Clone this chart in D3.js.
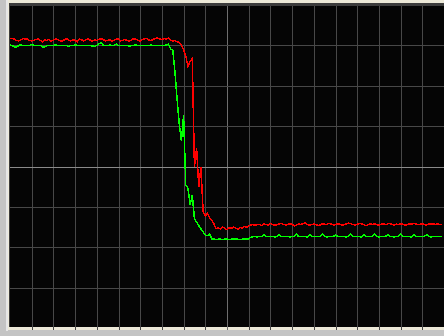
<!DOCTYPE html>
<html>
<head>
<meta charset="utf-8">
<script src="https://cdn.jsdelivr.net/npm/d3@7"></script>
<style>
  html, body { margin: 0; padding: 0; background: #c4c4c4; }
  svg { display: block; }
</style>
</head>
<body>
<div id="chart"></div>
<script>
// trace values in percent of full scale, one sample per index
var redValues = [
    89.6, 89.6, 89.5, 89.0, 88.9, 89.2, 89.6, 89.5, 89.4, 89.0,
    88.9, 89.1, 89.3, 89.5, 89.0, 88.6, 89.2, 89.0, 89.4, 88.8,
    89.1, 89.5, 89.3, 89.0, 88.7, 89.2, 89.6, 89.1, 88.9, 89.3,
    89.0, 88.6, 89.4, 89.2, 88.9, 89.3, 89.5, 89.1, 88.8, 89.2,
    89.0, 89.4, 89.6, 89.3, 88.9, 89.0, 89.2, 88.7, 89.1, 89.5,
    89.4, 88.9, 89.1, 89.3, 89.0, 88.8, 89.2, 89.6, 89.4, 89.0,
    88.9, 89.3, 89.5, 89.7, 89.2, 89.0, 89.4, 89.6, 89.8, 89.5,
    89.3, 89.6, 89.4, 89.7, 89.2, 88.8, 89.0, 88.6, 88.4, 87.6,
    86.1, 84.2, 81.0, 82.5, 83.4, 49.8, 55.7, 43.7, 49.8, 35.9,
    34.7, 35.6, 34.1, 33.4, 32.2, 30.7, 31.0, 30.6, 31.2, 30.9,
    30.4, 31.0, 30.8, 31.3, 30.9, 30.6, 31.1, 31.0, 31.4, 31.2,
    31.6, 31.9, 32.0, 31.8, 32.1, 32.0, 31.7, 32.2, 32.0, 31.9,
    32.3, 32.1, 31.8, 32.0, 32.2, 32.4, 32.1, 31.9, 32.0, 32.3,
    32.1, 31.6, 31.9, 32.2, 32.0, 32.3, 32.5, 32.1, 31.8, 32.0,
    32.2, 32.0, 31.7, 31.9, 32.3, 32.1, 32.0, 32.4, 32.2, 31.9,
    32.0, 32.3, 32.1, 31.8, 32.0, 32.2, 32.5, 32.3, 32.0, 31.9,
    32.1, 32.4, 32.2, 32.0, 31.7, 32.0, 32.3, 32.1, 32.2, 32.0,
    31.8, 32.1, 32.3, 32.0, 32.2, 32.4, 32.1, 31.9, 32.2, 32.0,
    32.3, 32.1, 31.8, 32.0, 32.2, 32.1, 32.4, 32.2, 32.0, 32.1,
    32.3, 32.0, 31.9, 32.2, 32.1, 32.3, 32.0, 32.2, 32.1, 32.0
];

var greenValues = [
    87.6, 87.5, 87.0, 86.9, 87.5, 87.6, 87.5, 87.5, 87.4, 87.5,
    87.8, 87.5, 87.5, 87.4, 87.5, 87.0, 87.0, 87.4, 87.5, 87.5,
    87.5, 87.6, 87.5, 87.5, 87.5, 87.5, 87.4, 87.2, 87.5, 87.5,
    87.6, 87.5, 87.5, 87.5, 87.5, 87.5, 87.5, 87.4, 87.3, 87.2,
    87.5, 88.0, 88.3, 87.5, 87.5, 87.4, 87.6, 87.5, 87.5, 87.9,
    87.5, 87.5, 87.4, 87.5, 87.5, 87.2, 87.5, 87.5, 87.6, 87.5,
    87.5, 87.4, 87.5, 87.5, 87.5, 87.6, 87.5, 87.5, 87.5, 87.4,
    87.5, 87.5, 87.6, 87.9, 86.4, 86.1, 79.3, 70.9, 63.2, 57.9,
    65.9, 44.3, 43.3, 38.1, 41.2, 33.8, 32.8, 31.7, 30.7, 29.7,
    28.8, 28.6, 29.1, 27.6, 27.5, 27.4, 27.5, 27.5, 27.4, 27.5,
    27.5, 27.4, 27.5, 27.5, 27.6, 27.5, 27.4, 27.5, 27.5, 27.6,
    27.6, 28.1, 28.3, 28.3, 28.2, 28.4, 28.3, 28.9, 28.3, 28.3,
    28.4, 28.3, 28.2, 28.3, 28.9, 28.3, 28.4, 28.3, 28.3, 28.2,
    28.3, 28.4, 29.0, 28.3, 28.3, 28.4, 28.3, 28.2, 28.9, 28.4,
    28.3, 28.3, 28.4, 28.3, 29.1, 28.3, 28.2, 28.3, 28.4, 28.3,
    28.9, 28.3, 28.4, 28.3, 28.3, 28.2, 28.4, 29.0, 28.3, 28.3,
    28.4, 28.3, 28.2, 28.9, 28.3, 28.4, 28.3, 28.3, 29.0, 28.3,
    28.2, 28.4, 28.3, 28.3, 28.9, 28.4, 28.3, 28.2, 28.3, 28.4,
    29.0, 28.3, 28.3, 28.4, 28.3, 28.2, 28.9, 28.3, 28.4, 28.3,
    28.3, 28.4, 28.9, 28.3, 28.2, 28.3, 28.4, 28.3, 28.3, 28.4
];

// grid divisions: 20 across, 8 down
var xDivs = d3.range(10, 200, 10);
var yDivs = d3.range(12.5, 100, 12.5);

var W = 444, H = 336;
var plot = { left: 10, right: 444, top: 5, bottom: 328 };

var svg = d3.select("#chart")
    .append("svg")
    .attr("width", W)
    .attr("height", H);

// window frame
svg.append("rect")
    .attr("x", 0).attr("y", 0).attr("width", W).attr("height", H)
    .attr("fill", "#c4c4c4");
svg.append("rect")
    .attr("x", 6).attr("y", 0).attr("width", 2).attr("height", 331)
    .attr("fill", "#e6e6e6");
svg.append("rect")
    .attr("x", 8).attr("y", 0).attr("width", W - 8).attr("height", 330)
    .attr("fill", "#ece9d8");
svg.append("rect")
    .attr("x", 9).attr("y", 3).attr("width", W - 9).attr("height", 324)
    .attr("fill", "#3c3c3c");
svg.append("rect")
    .attr("x", 10).attr("y", 6).attr("width", W - 10).attr("height", 321)
    .attr("fill", "#050505");

var x = d3.scaleLinear().domain([0, 200]).range([plot.left, plot.right]);
var y = d3.scaleLinear().domain([0, 100]).range([plot.bottom, plot.top]);

var grid = svg.append("g").attr("shape-rendering", "crispEdges");

grid.selectAll(".vgrid")
    .data(xDivs)
    .enter().append("line")
    .attr("class", "vgrid")
    .attr("x1", d => Math.round(x(d)) + 0.5)
    .attr("x2", d => Math.round(x(d)) + 0.5)
    .attr("y1", 6)
    .attr("y2", 330)
    .attr("stroke", d => d === 100 ? "#6e6e6e" : "#484848")
    .attr("stroke-width", 1);

grid.selectAll(".hgrid")
    .data(yDivs)
    .enter().append("line")
    .attr("class", "hgrid")
    .attr("x1", 10)
    .attr("x2", W)
    .attr("y1", d => Math.round(y(d)) + 0.5)
    .attr("y2", d => Math.round(y(d)) + 0.5)
    .attr("stroke", d => d === 50 ? "#8a8a8a" : "#484848")
    .attr("stroke-width", 1);

var line = d3.line()
    .x((d, i) => x(i))
    .y(d => y(d));

svg.append("path")
    .datum(redValues)
    .attr("fill", "none")
    .attr("stroke", "#ff0000")
    .attr("stroke-width", 1.5)
    .attr("shape-rendering", "crispEdges")
    .attr("d", line);

svg.append("path")
    .datum(greenValues)
    .attr("fill", "none")
    .attr("stroke", "#00ff00")
    .attr("stroke-width", 1.5)
    .attr("shape-rendering", "crispEdges")
    .attr("d", line);
</script>
</body>
</html>
